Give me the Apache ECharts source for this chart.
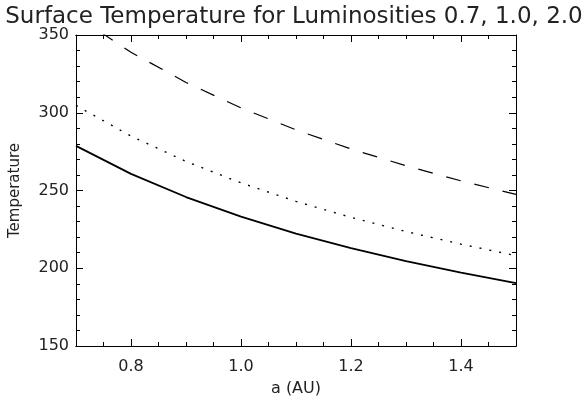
<!DOCTYPE html>
<html>
<head>
<meta charset="utf-8">
<script src="https://cdn.jsdelivr.net/npm/echarts@6/dist/echarts.min.js"></script>
<style>
  html, body { margin: 0; padding: 0; background: #fff; }
  #chart { width: 588px; height: 403px; }
</style>
</head>
<body>
<div id="chart"></div>
<script>
// Orbital distance (AU) and equilibrium surface temperature (K) for three luminosities
const distanceAU = [0.7, 0.8, 0.9, 1.0, 1.1, 1.2, 1.3, 1.4, 1.5];
const tempLum07 = [278.7, 260.7, 245.8, 233.2, 222.3, 212.9, 204.6, 197.2, 190.4];
const tempLum10 = [304.7, 285.0, 268.7, 254.9, 243.0, 232.7, 223.6, 215.5, 208.1];
const tempLum20 = [362.3, 338.9, 319.5, 303.1, 289.0, 276.7, 265.9, 256.2, 247.5];

// Axis ticks
const xMajorTicks = [0.8, 1.0, 1.2, 1.4];
const xMinorTicks = [0.75, 0.85, 0.9, 0.95, 1.05, 1.1, 1.15, 1.25, 1.3, 1.35, 1.45];
const yMin = 150, yMax = 350, yStep = 50;

const FONT = 'DejaVu Sans';
const INK = '#000';
const TEXT = '#222';

function pairs(xs, ys) { return xs.map((x, i) => [x, ys[i]]); }

function xAxisDef(position, ticks, len, withLabels) {
  return {
    type: 'value', position: position, min: 0.7, max: 1.5,
    axisLine: { show: true, onZero: false, lineStyle: { color: INK, width: 1 } },
    axisTick: { show: true, inside: true, length: len, customValues: ticks,
                lineStyle: { color: INK, width: 1 } },
    axisLabel: withLabels ? {
      show: true, customValues: ticks, margin: 13,
      fontFamily: FONT, fontSize: 16, color: TEXT,
      formatter: v => v.toFixed(1)
    } : { show: false },
    splitLine: { show: false },
    name: withLabels ? 'a (AU)' : '', nameLocation: 'middle', nameGap: 35,
    nameTextStyle: { fontFamily: FONT, fontSize: 16, color: TEXT }
  };
}

function yAxisDef(position, withLabels) {
  return {
    type: 'value', position: position, min: yMin, max: yMax, interval: yStep,
    axisLine: { show: true, onZero: false, lineStyle: { color: INK, width: 1 } },
    axisTick: { show: true, inside: true, length: 7, lineStyle: { color: INK, width: 1 } },
    minorTick: { show: true, splitNumber: 5, length: 4, lineStyle: { color: INK, width: 1 } },
    axisLabel: withLabels ? {
      show: true, margin: 7, fontFamily: FONT, fontSize: 16, color: TEXT
    } : { show: false },
    splitLine: { show: false },
    minorSplitLine: { show: false },
    name: withLabels ? 'Temperature' : '', nameLocation: 'middle', nameGap: 53,
    nameTextStyle: { fontFamily: FONT, fontSize: 15, color: TEXT }
  };
}

const chart = echarts.init(document.getElementById('chart'), null, { renderer: 'canvas' });
chart.setOption({
  animation: false,
  backgroundColor: '#fff',
  title: {
    text: 'Surface Temperature for Luminosities 0.7, 1.0, 2.0',
    left: 'center', top: 1,
    textStyle: { fontFamily: FONT, fontSize: 23, fontWeight: 'normal', color: TEXT }
  },
  grid: { left: 75, right: 72, top: 35, bottom: 57 },
  xAxis: [
    xAxisDef('bottom', xMajorTicks, 7, true),
    xAxisDef('bottom', xMinorTicks, 4, false),
    xAxisDef('top', xMajorTicks, 7, false),
    xAxisDef('top', xMinorTicks, 4, false)
  ],
  yAxis: [
    yAxisDef('left', true),
    yAxisDef('right', false)
  ],
  series: [
    {
      name: 'L = 0.7', type: 'line', xAxisIndex: 0, yAxisIndex: 0,
      data: pairs(distanceAU, tempLum07), showSymbol: false, clip: true,
      lineStyle: { color: INK, width: 1.8, type: 'solid' }
    },
    {
      name: 'L = 1.0', type: 'line', xAxisIndex: 0, yAxisIndex: 0,
      data: pairs(distanceAU, tempLum10), showSymbol: false, clip: true,
      lineStyle: { color: INK, width: 1.4, type: [2, 8] }
    },
    {
      name: 'L = 2.0', type: 'line', xAxisIndex: 0, yAxisIndex: 0,
      data: pairs(distanceAU, tempLum20), showSymbol: false, clip: true,
      lineStyle: { color: INK, width: 1.2, type: [15, 14] }
    }
  ]
});
</script>
</body>
</html>
